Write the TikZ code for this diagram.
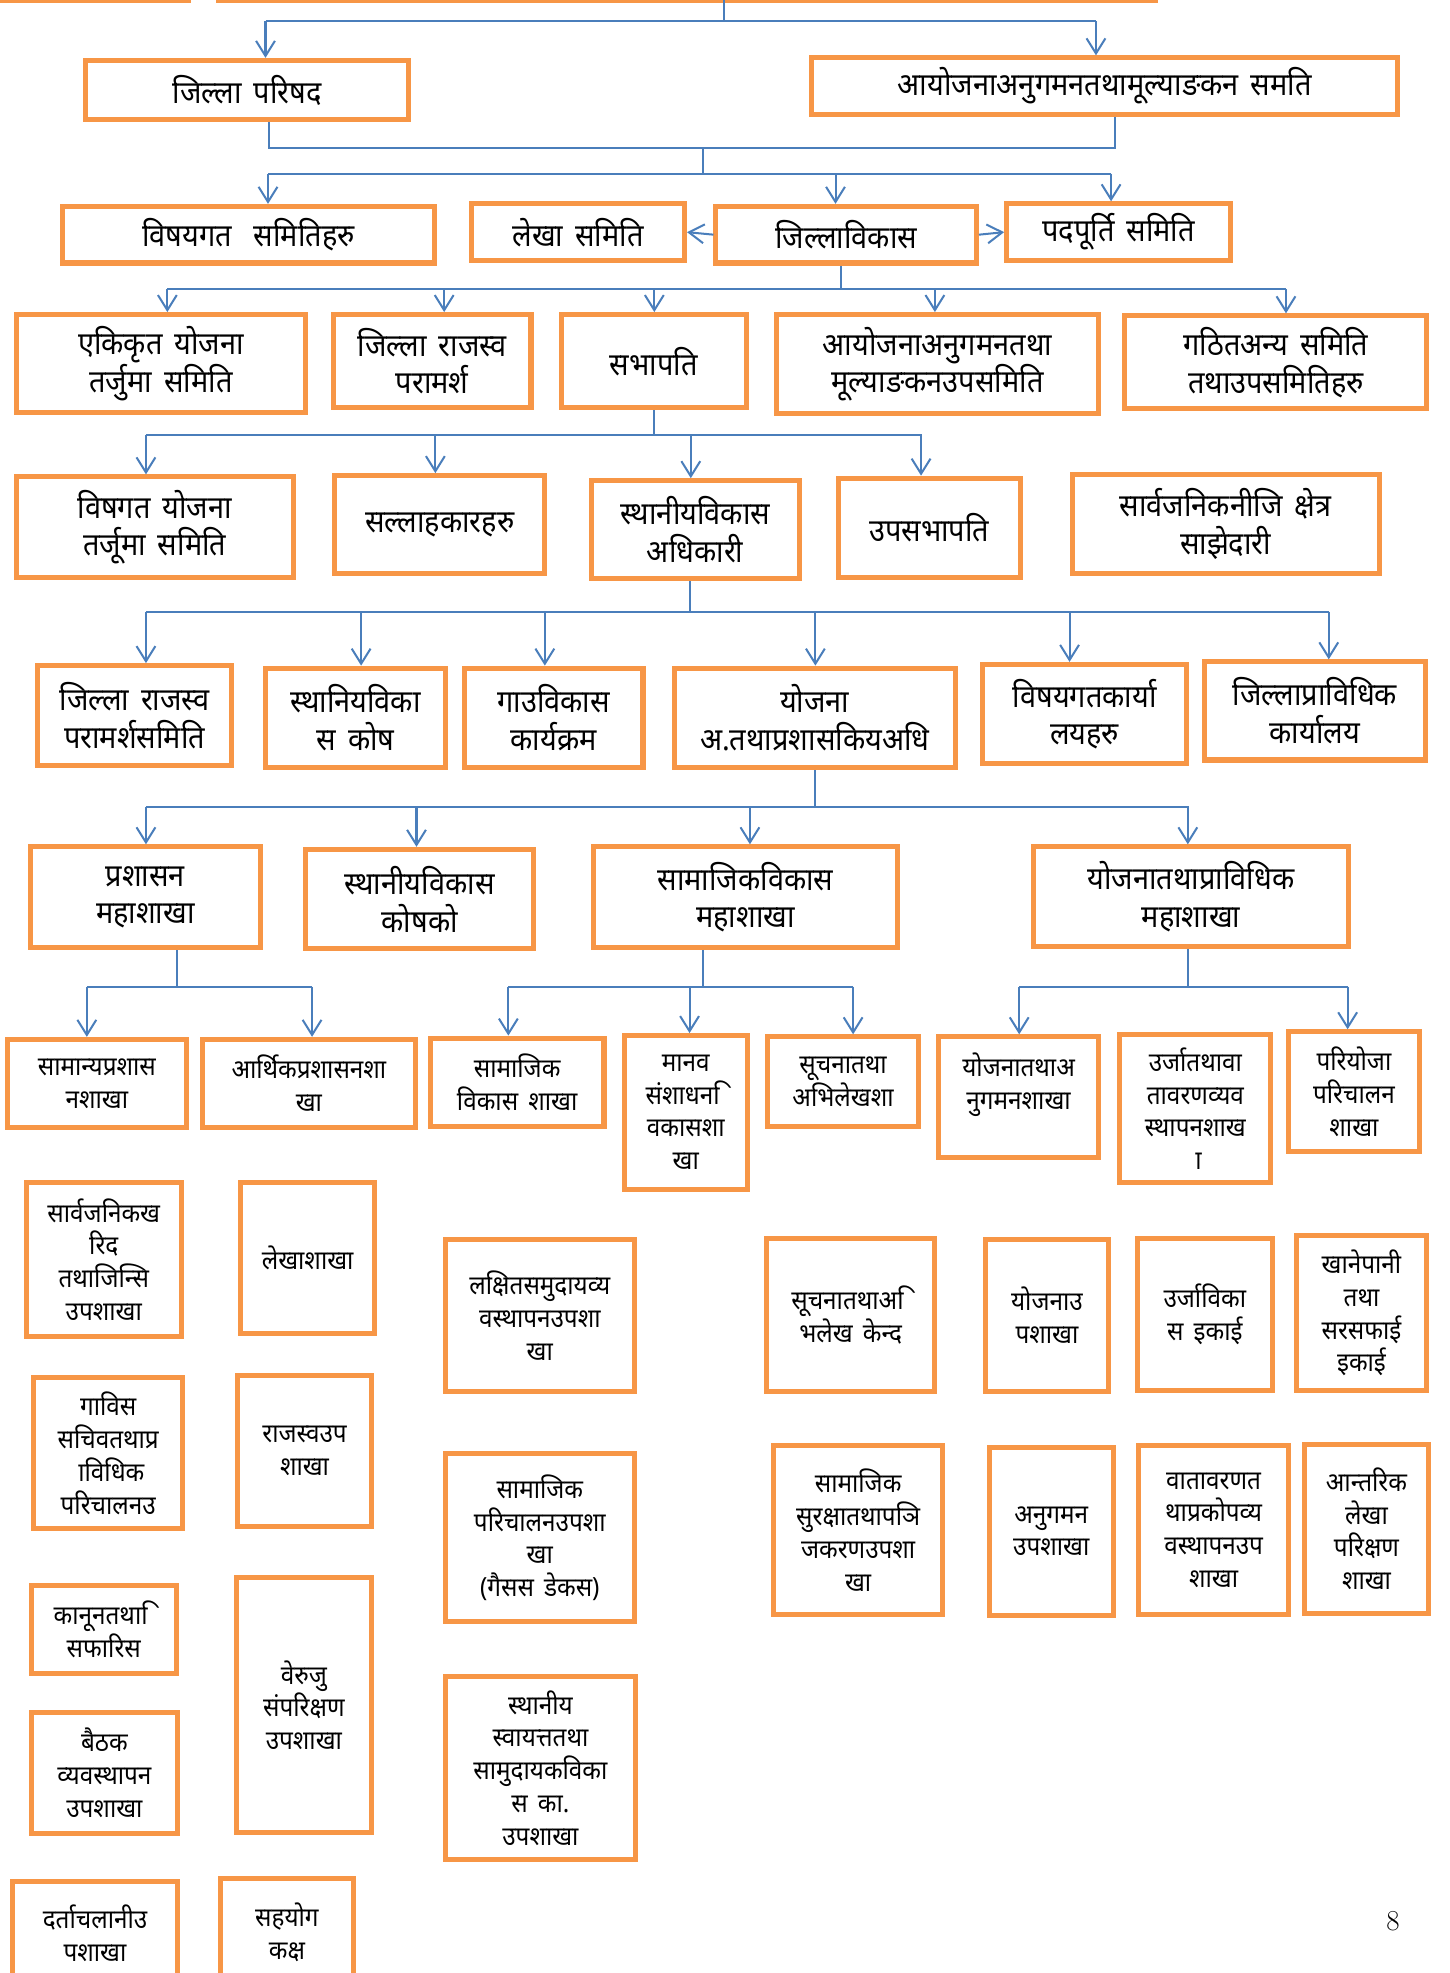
\documentclass[tikz,border=0pt]{standalone}
\usepackage{fontspec}
\newfontfamily\dev[Script=Devanagari, FakeStretch=0.92, WordSpace=1.6]{Noto Sans}
\usetikzlibrary{arrows.meta}
\definecolor{boxorange}{HTML}{F79646}
\definecolor{linkblue}{HTML}{4A7EBB}

\begin{document}
\begin{tikzpicture}[
  x=1pt, y=-1pt,
  box/.style={draw=boxorange, line width=4pt, fill=white, align=center, inner sep=1pt,
    font=\dev\fontsize{25}{30}\selectfont},
  smallbox/.style={box, font=\dev\fontsize{21}{26}\selectfont},
  sz/.style 2 args={minimum width=#1pt, minimum height=#2pt},
  cutbox/.style={draw=boxorange, line width=4pt},
  link/.style={draw=linkblue, line width=1.6pt},
  arr/.style={link, -{Straight Barb[length=12pt, width=15pt, line width=1.6pt]}},
]
  \useasboundingbox (0,0) rectangle (1152,1568);
  \clip (0,0) rectangle (1152,1568);

  % boxes cut off at the top edge
  \draw[cutbox] (-20,-40) rectangle (150,0.5);
  \draw[cutbox] (174,-40) rectangle (918,0.5);

  % row A
  \node[box, sz={257}{47}] (jparishad) at (196.5,71.5) {जिल्ला परिषद};
  \node[box, sz={466}{45}] (ayojana) at (878,68.5) {आयोजनाअनुगमनतथामूल्याङकन समति};

  % row B
  \node[box, sz={295}{45}] (vishaygat) at (197.5,186.5) {विषयगत\hspace{0.7em}समितिहरु};
  \node[box, sz={169}{45}] (lekha) at (459.5,184.5) {लेखा समिति};
  \node[box, sz={207}{45}] (jvikas) at (672.5,186.5) {जिल्लाविकास};
  \node[box, sz={178}{45}] (padpurti) at (889,184.5) {पदपूर्ति समिति};

  % row C
  \node[box, sz={230}{78}] (ekikrit) at (128,289) {एकिकृत योजना\\तर्जुमा समिति};
  \node[box, sz={157}{74}] (jrajaswa) at (343.5,287) {जिल्ला राजस्व\\परामर्श};
  \node[box, sz={147}{74}] (sabhapati) at (519.5,287) {सभापति};
  \node[box, sz={256}{79}] (ayojanaup) at (745,289.5) {आयोजनाअनुगमनतथा\\मूल्याङकनउपसमिति};
  \node[box, sz={240}{74}] (gathit) at (1014,288) {गठितअन्य समिति\\तथाउपसमितिहरु};

  % row D
  \node[box, sz={220}{80}] (vishagat) at (123,419) {विषगत योजना\\तर्जूमा समिति};
  \node[box, sz={167}{78}] (sallah) at (349.5,417) {सल्लाहकारहरु};
  \node[box, sz={165}{78}] (sthaniya) at (552.5,421) {स्थानीयविकास\\अधिकारी};
  \node[box, sz={145}{79}] (upsabha) at (738.5,419.5) {उपसभापति};
  \node[box, sz={244}{79}] (sarvajanik) at (974,416.5) {सार्वजनिकनीजि क्षेत्र\\साझेदारी};

  % row E
  \node[box, sz={154}{79}] (jrajsamiti) at (107,568.5) {जिल्ला राजस्व\\परामर्शसमिति};
  \node[box, sz={143}{79}] (kosh) at (282.5,570.5) {स्थानियविका\\स कोष};
  \node[box, sz={142}{79}] (gaun) at (440,570.5) {गाउविकास\\कार्यक्रम};
  \node[box, sz={223}{79}] (yojanaadhi) at (647.5,570.5) {योजना\\अ.तथाप्रशासकियअधि};
  \node[box, sz={162}{79}] (karyalaya) at (862,567.5) {विषयगतकार्या\\लयहरु};
  \node[box, sz={176}{78}] (prabidhik) at (1045,565) {जिल्लाप्राविधिक\\कार्यालय};

  % row F
  \node[box, sz={183}{80}] (prashasan) at (115.5,713) {प्रशासन\\महाशाखा};
  \node[box, sz={181}{79}] (koshko) at (333.5,714.5) {स्थानीयविकास\\कोषको};
  \node[box, sz={241}{80}] (samajik) at (592.5,713) {सामाजिकविकास\\महाशाखा};
  \node[box, sz={251}{79}] (yojanatatha) at (946.5,712.5) {योजनातथाप्राविधिक\\महाशाखा};

  % row G
  \node[smallbox, sz={142}{70}] (samanya) at (77,861) {सामान्यप्रशास\\नशाखा};
  \node[smallbox, sz={169}{70}] (arthik) at (245.5,861) {आर्थिकप्रशासनशा\\खा};
  \node[smallbox, sz={138}{70}] (samvikas) at (411,860) {सामाजिक\\विकास शाखा};
  \node[smallbox, sz={98}{122}] (manav) at (545,884) {मानव\\संशाधन^^^^00a0ि\\वकासशा\\खा};
  \node[smallbox, sz={120}{71}] (suchana) at (670,859.5) {सूचनातथा\\अभिलेखशा};
  \node[smallbox, sz={127}{96}] (anugaman) at (809.5,872) {योजनातथाअ\\नुगमनशाखा\\~};
  \node[smallbox, sz={120}{118}] (urja) at (950,881) {उर्जातथावा\\तावरणव्यव\\स्थापनशाख\\^^^^00a0ा};
  \node[smallbox, sz={104}{95}] (pariyojana) at (1076,867.5) {परियोजा\\परिचालन\\शाखा};

  % lower branch boxes
  \node[smallbox, sz={123}{122}] (kharid) at (82.5,1001) {सार्वजनिकख\\रिद\\तथाजिन्सि\\उपशाखा};
  \node[smallbox, sz={107}{120}] (lekhashakha) at (244.5,1000) {लेखाशाखा};
  \node[smallbox, sz={150}{121}] (lakshit) at (429,1045.5) {लक्षितसमुदायव्य\\वस्थापनउपशा\\खा};
  \node[smallbox, sz={118}{120}] (gavis) at (86,1155) {गाविस\\सचिवतथाप्र\\^^^^00a0ाविधिक\\परिचालनउ};
  \node[smallbox, sz={106}{120}] (rajaswaup) at (242,1153) {राजस्वउप\\शाखा};
  \node[smallbox, sz={150}{134}] (parichalan) at (429,1222) {सामाजिक\\परिचालनउपशा\\खा\\(गैसस डेकस)};
  \node[smallbox, sz={134}{122}] (suchkendra) at (676,1045) {सूचनातथाअ^^^^00a0ि\\भलेख केन्द};
  \node[smallbox, sz={98}{121}] (yojup) at (832,1045.5) {योजनाउ\\पशाखा};
  \node[smallbox, sz={107}{121}] (urjavikas) at (957.5,1044.5) {उर्जाविका\\स इकाई};
  \node[smallbox, sz={104}{123}] (khanepani) at (1082,1043.5) {खानेपानी\\तथा\\सरसफाई\\इकाई};
  \node[smallbox, sz={134}{134}] (suraksha) at (682,1216) {सामाजिक\\सुरक्षातथापञि\\जकरणउपशा\\खा};
  \node[smallbox, sz={99}{134}] (anugup) at (835.5,1217) {अनुगमन\\उपशाखा};
  \node[smallbox, sz={119}{134}] (vatavaran) at (964.5,1216) {वातावरणत\\थाप्रकोपव्य\\वस्थापनउप\\शाखा};
  \node[smallbox, sz={98}{134}] (antarik) at (1086,1215) {आन्तरिक\\लेखा\\परिक्षण\\शाखा};
  \node[smallbox, sz={115}{70}] (kanun) at (82.5,1295) {कानूनतथा^^^^00a0ि\\सफारिस};
  \node[smallbox, sz={107}{202}] (beruju) at (241.5,1355) {वेरुजु\\संपरिक्षण\\उपशाखा};
  \node[smallbox, sz={116}{96}] (baithak) at (83,1409) {बैठक\\व्यवस्थापन\\उपशाखा};
  \node[smallbox, sz={151}{146}] (swayatta) at (429.5,1405) {स्थानीय\\स्वायत्ततथा\\सामुदायकविका\\स का.\\उपशाखा};
  \node[smallbox, sz={131}{83}] (darta) at (75.5,1536.5) {दर्ताचलानीउ\\पशाखा};
  \node[smallbox, sz={106}{85}] (sahayog) at (228,1535.5) {सहयोग\\कक्ष};

  \node[font=\fontsize{23}{26}\selectfont] (pagenum) at (1107,1527) {8};

  % connectors
  \coordinate (topin) at (575,0);
  \draw[link] (topin) -- (575,17);
  \draw[link] (211,17) -- (871,17);
  \draw[arr] (211,17) -- (211,17 |- jparishad.north);
  \draw[arr] (871,17) -- (871,17 |- ayojana.north);

  \draw[link] ([xshift=17.5pt]jparishad.south) -- (214,118) -- (886,118) -- ([xshift=8pt]ayojana.south);
  \draw[link] (559,118) -- (559,138);
  \draw[link] (213,138) -- (883,138);
  \foreach \x/\n in {213/vishaygat, 664/jvikas, 883/padpurti}
    \draw[arr] (\x,138) -- (\x,138 |- \n.north);
  \draw[arr] (jvikas.west) -- (lekha.east);
  \draw[arr] (jvikas.east) -- (padpurti.west);

  \draw[link] ([xshift=-4.5pt]jvikas.south) -- (668,230);
  \draw[link] (133,230) -- (1022,230);
  \foreach \x/\n in {133/ekikrit, 353/jrajaswa, 520/sabhapati, 743/ayojanaup, 1022/gathit}
    \draw[arr] (\x,230) -- (\x,230 |- \n.north);

  \draw[link] (sabhapati.south) -- (sabhapati.south |- 0,346);
  \draw[link] (116,346) -- (733,346);
  \foreach \x/\n in {116/vishagat, 346/sallah, 549/sthaniya, 732/upsabha}
    \draw[arr] (\x,346) -- (\x,346 |- \n.north);

  \draw[link] ([xshift=-4.5pt]sthaniya.south) -- (548,486);
  \draw[link] (116,486) -- (1056,486);
  \foreach \x/\n in {116/jrajsamiti, 287/kosh, 433/gaun, 648/yojanaadhi, 850/karyalaya, 1056/prabidhik}
    \draw[arr] (\x,486) -- (\x,486 |- \n.north);

  \draw[link] (yojanaadhi.south) -- (yojanaadhi.south |- 0,641);
  \draw[link] (116,641) -- (945,641);
  \foreach \x/\n in {116/prashasan, 331/koshko, 596/samajik, 944/yojanatatha}
    \draw[arr] (\x,641) -- (\x,641 |- \n.north);

  \draw[link] ([xshift=25.5pt]prashasan.south) -- (141,784);
  \draw[link] (69,784) -- (248,784);
  \foreach \x/\n in {69/samanya, 248/arthik}
    \draw[arr] (\x,784) -- (\x,784 |- \n.north);

  \draw[link] ([xshift=-33.5pt]samajik.south) -- (559,784);
  \draw[link] (404,784) -- (678,784);
  \foreach \x/\n in {404/samvikas, 548/manav, 678/suchana}
    \draw[arr] (\x,784) -- (\x,784 |- \n.north);

  \draw[link] ([xshift=-2.5pt]yojanatatha.south) -- (944,784);
  \draw[link] (810,784) -- (1071,784);
  \foreach \x/\n in {810/anugaman, 1071/pariyojana}
    \draw[arr] (\x,784) -- (\x,784 |- \n.north);
\end{tikzpicture}
\end{document}
